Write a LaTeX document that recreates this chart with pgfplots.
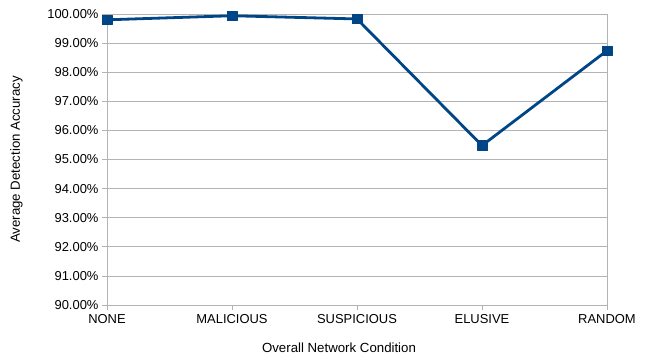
\documentclass[border=0pt]{standalone}
\usepackage{pgfplots}
\pgfplotsset{compat=1.18}
\usepackage{fontspec}
\setmainfont{Liberation Sans}
\definecolor{lblue}{HTML}{004586}
\definecolor{gridgray}{HTML}{B3B3B3}
\begin{document}
\begin{tikzpicture}
\begin{axis}[
  scale only axis,
  width=500bp, height=291bp,
  xmin=0, xmax=4, ymin=90, ymax=100,
  xtick={0,1,2,3,4},
  xticklabels={NONE,MALICIOUS,SUSPICIOUS,ELUSIVE,RANDOM},
  ytick={90,91,...,100},
  yticklabel={\pgfmathprintnumber[fixed,fixed zerofill,precision=2]{\tick}\%},
  /pgf/number format/assume math mode=true,
  ymajorgrids, grid style={gridgray, line width=0.8bp},
  axis line style={gridgray, line width=0.8bp},
  tick style={gridgray, line width=0.8bp},
  tick align=outside, major tick length=5bp,
  xtick pos=bottom, ytick pos=left,
  ticklabel style={font=\fontsize{13}{15}\selectfont, text=black},
  xticklabel style={yshift=-1bp},
  xlabel={Overall Network Condition},
  ylabel={Average Detection Accuracy},
  label style={font=\fontsize{13.3}{15}\selectfont, text=black},
  xlabel style={yshift=-12bp, xshift=-18bp},
  ylabel style={yshift=18bp},
  clip=false,
]
\addplot[color=lblue, line width=2.8bp, line join=round, mark=square*, mark size=4.8bp, mark options={solid, fill=lblue, line width=0.5bp}]
coordinates {(0,99.80) (1,99.94) (2,99.83) (3,95.48) (4,98.74)};
\end{axis}
\path (-107bp,-51bp) rectangle (544bp,305bp);
\end{tikzpicture}
\end{document}
